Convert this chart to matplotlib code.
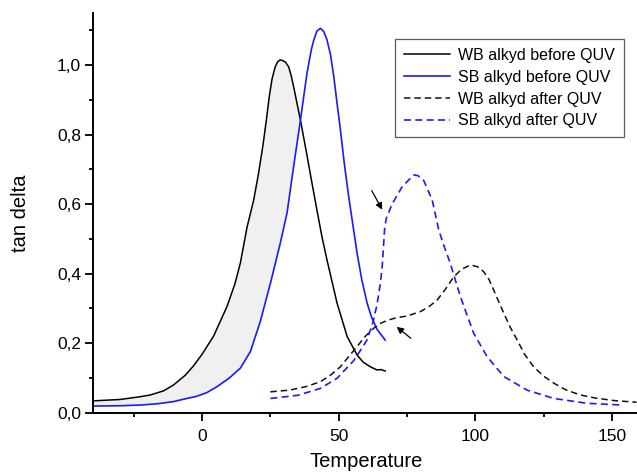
import matplotlib
matplotlib.use("Agg")
import matplotlib.pyplot as plt
from matplotlib.ticker import MultipleLocator, FuncFormatter
import numpy as np

plt.rcParams['font.family'] = ['Liberation Sans', 'DejaVu Sans']

# WB alkyd before QUV
t_wb_bef = [-40, -30, -22.6, -18.9, -14, -10.4, -6.1, -3.1, 0, 4.2, 9.1, 12, 14, 16.5, 18.9,
            20.7, 22.3, 23.5, 24.6, 25.6, 26.8, 27.7, 28.6, 29.6, 30.6, 31.7, 32.6, 33.5, 36, 38.4,
            40, 42.1, 43.9, 45.7, 49.4, 53.1, 56.7, 59, 61.6, 64, 65.5, 67]
v_wb_bef = [0.034, 0.038, 0.046, 0.051, 0.063, 0.08, 0.108, 0.135, 0.168, 0.22, 0.305, 0.37, 0.43, 0.535, 0.612,
            0.69, 0.77, 0.84, 0.91, 0.96, 0.996, 1.01, 1.015, 1.013, 1.008, 0.995, 0.97, 0.938, 0.842, 0.74,
            0.67, 0.58, 0.505, 0.44, 0.315, 0.219, 0.166, 0.145, 0.132, 0.123, 0.124, 0.12]

# SB alkyd before QUV
t_sb_bef = [-40, -30, -22.6, -16, -10.4, -6.1, -2, 1.8, 5.5, 10, 14, 17.7, 21.3, 25, 28.6, 31.1,
            33.5, 36, 38.4, 40, 40.8, 42, 43.3, 44.5, 45.7, 47, 48.2, 49.4, 50.6, 52, 53.5, 55,
            56.7, 58.5, 60.4, 62, 64, 67]
v_sb_bef = [0.019, 0.02, 0.022, 0.026, 0.032, 0.04, 0.047, 0.058, 0.075, 0.1, 0.128, 0.176, 0.262, 0.372, 0.487, 0.575,
            0.708, 0.842, 0.977, 1.045, 1.07, 1.098, 1.106, 1.097, 1.073, 1.03, 0.967, 0.89, 0.815, 0.72, 0.63, 0.55,
            0.46, 0.38, 0.315, 0.275, 0.24, 0.209]

# WB alkyd after QUV
t_wb_aft = [25, 32, 38, 43.3, 47, 50.6, 53.5, 56.7, 59.5, 62.8, 65.5, 68.3, 71.5, 75, 79.9, 83, 86,
            89, 92.1, 95, 98.2, 100.8, 103, 105, 106.7, 108.5, 110.4, 112.8, 115.3, 118, 121.3,
            125, 128.7, 133, 138.4, 144, 150.6, 159]
v_wb_aft = [0.06, 0.065, 0.075, 0.089, 0.108, 0.132, 0.16, 0.19, 0.218, 0.243, 0.258, 0.267, 0.274, 0.278, 0.291, 0.305, 0.324,
            0.355, 0.391, 0.413, 0.425, 0.42, 0.406, 0.383, 0.353, 0.32, 0.286, 0.245, 0.209, 0.168, 0.132,
            0.105, 0.085, 0.066, 0.051, 0.042, 0.035, 0.03]

# SB alkyd after QUV
t_sb_aft = [25, 35, 43.3, 49.4, 55.5, 58, 60.4, 62.5, 64, 65.2, 65.9, 66.4, 66.8, 67.4, 69.5, 73.2,
            77.4, 79, 81.1, 84.2, 86.6, 88.5, 90.8, 94.5, 99.4, 104.3, 110.4, 118.9, 128.7, 140.9, 153.7]
v_sb_aft = [0.041, 0.05, 0.07, 0.099, 0.15, 0.18, 0.21, 0.26, 0.31, 0.37, 0.42, 0.48, 0.53, 0.559, 0.6, 0.65,
            0.684, 0.682, 0.668, 0.612, 0.526, 0.48, 0.43, 0.334, 0.228, 0.161, 0.104, 0.065, 0.041, 0.027, 0.022]

fig = plt.figure(figsize=(6.37, 4.76), dpi=100)
ax = fig.add_axes([92.7 / 637, 63.3 / 476, 546.7 / 637, 399.7 / 476])

# shaded area between the two "before" curves
tt = np.linspace(-40, 36, 400)
a = np.interp(tt, t_wb_bef, v_wb_bef)
b = np.interp(tt, t_sb_bef, v_sb_bef)
ax.fill_between(tt, a, b, where=a >= b, color='#f0f0f0', linewidth=0)

ax.plot(t_wb_bef, v_wb_bef, color='black', lw=1.1, label='WB alkyd before QUV')
ax.plot(t_sb_bef, v_sb_bef, color='#1a1aff', lw=1.2, label='SB alkyd before QUV')
ax.plot(t_wb_aft, v_wb_aft, color='#111111', lw=1.1, ls=(0, (4.2, 2.6)), label='WB alkyd after QUV')
ax.plot(t_sb_aft, v_sb_aft, color='#1a1aff', lw=1.2, ls=(0, (4.2, 2.6)), label='SB alkyd after QUV')

ax.annotate('', xy=(66.4, 0.577), xytext=(61.6, 0.646),
            arrowprops=dict(arrowstyle='-|>', color='black', lw=0.9, mutation_scale=10))
ax.annotate('', xy=(70.4, 0.252), xytext=(77.2, 0.209),
            arrowprops=dict(arrowstyle='-|>', color='black', lw=0.9, mutation_scale=10))

ax.set_xlim(-40, 160)
ax.set_ylim(0, 1.15)
ax.xaxis.set_major_locator(MultipleLocator(50))
ax.xaxis.set_minor_locator(MultipleLocator(25))
ax.yaxis.set_major_locator(MultipleLocator(0.2))
ax.yaxis.set_minor_locator(MultipleLocator(0.1))
ax.yaxis.set_major_formatter(FuncFormatter(lambda v, p: f"{v:.1f}".replace('.', ',')))
ax.spines['top'].set_visible(False)
ax.spines['right'].set_visible(False)
for s in ['left', 'bottom']:
    ax.spines[s].set_linewidth(1.4)
ax.tick_params(which='major', direction='out', length=5.5, width=1.3, labelsize=12.5)
ax.tick_params(which='minor', direction='out', length=3.2, width=1.3)
ax.tick_params(axis='x', which='major', pad=6)
ax.tick_params(axis='y', which='major', pad=3)

ax.set_xlabel('Temperature', fontsize=14.5, labelpad=6)
ax.set_ylabel('tan delta', fontsize=14.5, labelpad=19)

leg = ax.legend(loc='upper right', bbox_to_anchor=((624 - 92.7) / 546.7, (412.7 - 39.3) / 399.7),
                bbox_transform=ax.transAxes, fontsize=11.5, handlelength=2.9, handletextpad=0.5,
                frameon=True, fancybox=False, borderpad=0.55, labelspacing=0.42, borderaxespad=0)
leg.get_frame().set_edgecolor('#333333')
leg.get_frame().set_linewidth(0.9)

fig.savefig('out.png', dpi=100)
